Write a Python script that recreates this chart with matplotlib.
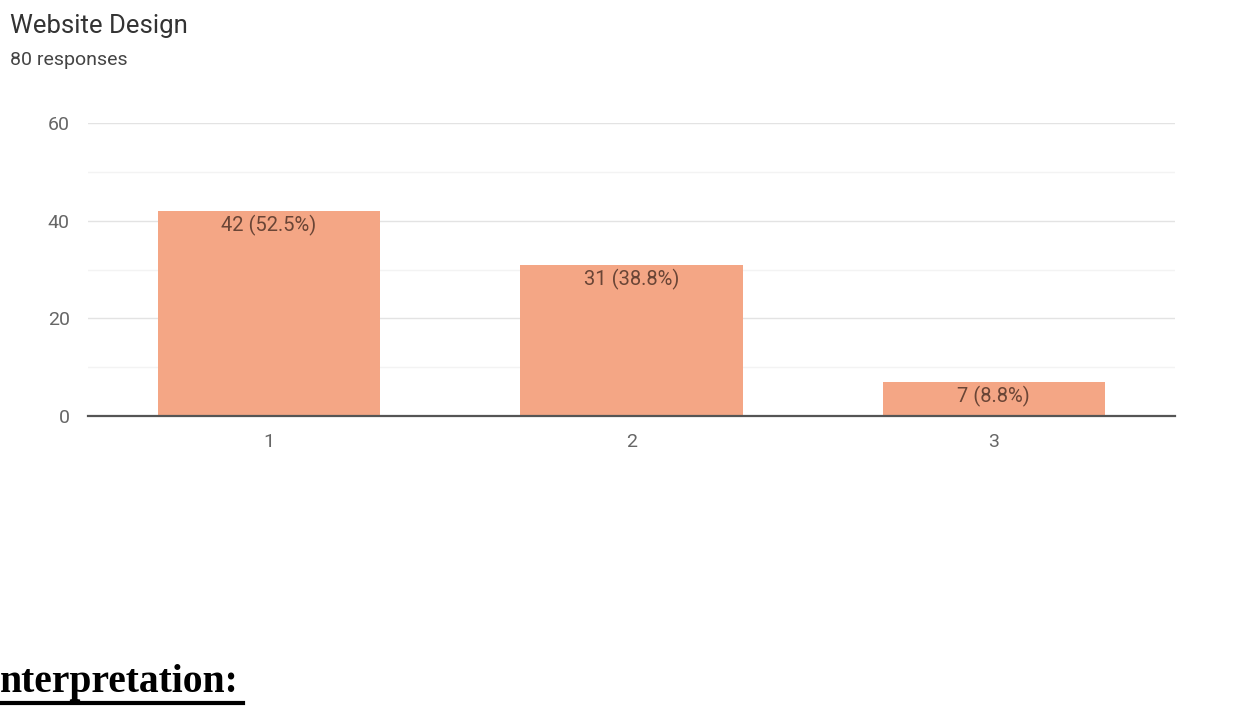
import matplotlib
matplotlib.use('Agg')
import matplotlib.pyplot as plt
from matplotlib.lines import Line2D
from matplotlib.ticker import MultipleLocator

# data
categories = ['1', '2', '3']
counts = [42, 31, 7]
total = 80
bar_labels = ['42 (52.5%)', '31 (38.8%)', '7 (8.8%)']

plt.rcParams['font.family'] = ['Roboto', 'DejaVu Sans']

fig = plt.figure(figsize=(12.56, 7.22), dpi=100)
ax = fig.add_axes([0.070, 0.4238, 0.8655, 0.4058])

x = list(range(len(categories)))
bars = ax.bar(x, counts, width=0.613, color='#F4A685', zorder=3)
for b, lab in zip(bars, bar_labels):
	ax.annotate(lab, (b.get_x() + b.get_width() / 2, b.get_height()),
				xytext=(0, -15), textcoords='offset points',
				ha='center', va='baseline', fontsize=14.5, color='#6a4536', zorder=4)

ax.set_xlim(-0.5, 2.5)
ax.set_ylim(0, 60)
ax.set_xticks(x)
ax.set_xticklabels(categories)
ax.yaxis.set_major_locator(MultipleLocator(20))
ax.yaxis.set_minor_locator(MultipleLocator(10))
ax.grid(axis='y', which='major', color='#e3e3e3', lw=1, zorder=0)
ax.grid(axis='y', which='minor', color='#f3f3f3', lw=1, zorder=0)
ax.tick_params(axis='both', which='both', length=0, labelsize=14, colors='#666666')
ax.tick_params(axis='x', pad=12)
ax.tick_params(axis='y', pad=13)
for s in ['top', 'left', 'right']:
	ax.spines[s].set_visible(False)
ax.spines['bottom'].set_color('#555555')
ax.spines['bottom'].set_linewidth(1.6)
ax.spines['bottom'].set_zorder(5)

fig.text(10 / 1256, 1 - 33 / 722, 'Website Design', fontsize=18.5, color='#333333', va='baseline', ha='left')
fig.text(10 / 1256, 1 - 65 / 722, '80 responses', fontsize=14, color='#444444', va='baseline', ha='left')

# caption text from the page below the chart (its first letter is cut off in the picture)
fig.text(0, 1 - 692 / 722, 'nterpretation:', fontsize=28.5, fontweight='bold',
		 family='Liberation Serif', color='black', ha='left', va='baseline')
fig.add_artist(Line2D([0, 243 / 1256], [1 - 702.5 / 722, 1 - 702.5 / 722], color='black', lw=3,
					  transform=fig.transFigure))

fig.savefig('out.png', dpi=100)
